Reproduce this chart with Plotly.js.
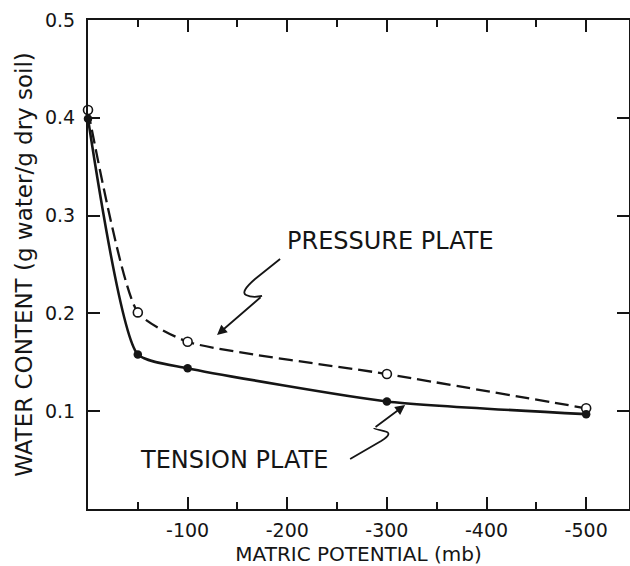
<!DOCTYPE html>
<html>
<head>
<meta charset="utf-8">
<script src="https://cdn.plot.ly/plotly-3.0.1.min.js"></script>
<style>html,body{margin:0;padding:0;background:#fff;}#chart{width:630px;height:566px;}</style>
</head>
<body>
<div id="chart"></div>
<script>
// Matric potential (mb)
const potential = [0, -50, -100, -300, -500];
// Water content (g water / g dry soil)
const pressurePlate = [0.408, 0.201, 0.171, 0.138, 0.103];
const tensionPlate = [0.399, 0.158, 0.144, 0.110, 0.097];

const xTickVals = [-100, -200, -300, -400, -500];
const xTickText = ["-100", "-200", "-300", "-400", "-500"];
const yTickVals = [0.1, 0.2, 0.3, 0.4, 0.5];
const yTickText = ["0.1", "0.2", "0.3", "0.4", "0.5"];

const FONT = "DejaVu Sans";
const INK = "#151515";

const traces = [
  {
    x: potential, y: pressurePlate, name: "PRESSURE PLATE",
    type: "scatter", mode: "lines+markers", cliponaxis: false,
    line: {shape: "spline", smoothing: 0.55, color: INK, width: 2.3, dash: "14px,6px"},
    marker: {symbol: "circle", size: 9, color: "#fff", line: {color: INK, width: 1.6}}
  },
  {
    x: potential, y: tensionPlate, name: "TENSION PLATE",
    type: "scatter", mode: "lines+markers", cliponaxis: false,
    line: {shape: "spline", smoothing: 0.55, color: INK, width: 2.6},
    marker: {symbol: "circle", size: 8.5, color: INK}
  }
];

const axisCommon = {
  showgrid: false, zeroline: false, showline: true, linecolor: INK, linewidth: 2,
  mirror: "ticks", ticks: "inside", ticklen: 12, tickwidth: 2, tickcolor: INK,
  tickfont: {family: FONT, size: 19, color: INK}, automargin: false
};

const layout = {
  width: 630, height: 566,
  margin: {l: 88, r: 1, t: 20, b: 57},
  paper_bgcolor: "#fff", plot_bgcolor: "#fff",
  showlegend: false,
  font: {family: FONT, color: INK},
  xaxis: Object.assign({}, axisCommon, {
    range: [0, -543],
    tickmode: "array", tickvals: xTickVals, ticktext: xTickText,
    ticklabelstandoff: 3,
    minor: {tickmode: "linear", tick0: 0, dtick: 50, ticks: "inside", ticklen: 7, tickwidth: 2, tickcolor: INK},
    title: {text: "MATRIC POTENTIAL (mb)", font: {family: FONT, size: 20, color: INK}, standoff: 13}
  }),
  yaxis: Object.assign({}, axisCommon, {
    range: [0, 0.5],
    tickmode: "array", tickvals: yTickVals, ticktext: yTickText,
    ticklabelstandoff: 7,
    title: {text: "WATER CONTENT (g water/g dry soil)", font: {family: FONT, size: 23, color: INK}, standoff: 6}
  }),
  shapes: [
    {type: "path", xref: "x", yref: "y", line: {color: INK, width: 1.8},
     path: "M -192.8,0.2556 L -167.7,0.2352 Q -152.6,0.2219 -158.6,0.2188 Q -164.7,0.2157 -174.7,0.2178"},
    {type: "path", xref: "x", yref: "y", line: {color: INK, width: 1.8},
     path: "M -263.1,0.0511 L -294.2,0.0695 Q -307.2,0.0777 -297.2,0.0797 Q -287.1,0.0818 -287.1,0.0828"}
  ],
  annotations: [
    {text: "PRESSURE PLATE", x: -198, y: 0.274, xref: "x", yref: "y", xanchor: "left", yanchor: "middle",
     showarrow: false, font: {family: FONT, size: 24, color: INK}},
    {text: "TENSION PLATE", x: -50, y: 0.0502, xref: "x", yref: "y", xanchor: "left", yanchor: "middle",
     showarrow: false, font: {family: FONT, size: 24, color: INK}},
    {text: "", x: -129.5, y: 0.178, xref: "x", yref: "y", ax: -174.7, ay: 0.2178, axref: "x", ayref: "y",
     showarrow: true, arrowhead: 2, arrowsize: 1.1, arrowwidth: 1.8, arrowcolor: INK},
    {text: "", x: -318.3, y: 0.1063, xref: "x", yref: "y", ax: -287.1, ay: 0.0828, axref: "x", ayref: "y",
     showarrow: true, arrowhead: 2, arrowsize: 1.1, arrowwidth: 1.8, arrowcolor: INK}
  ]
};

Plotly.newPlot("chart", traces, layout, {displayModeBar: false, staticPlot: true});
</script>
</body>
</html>
